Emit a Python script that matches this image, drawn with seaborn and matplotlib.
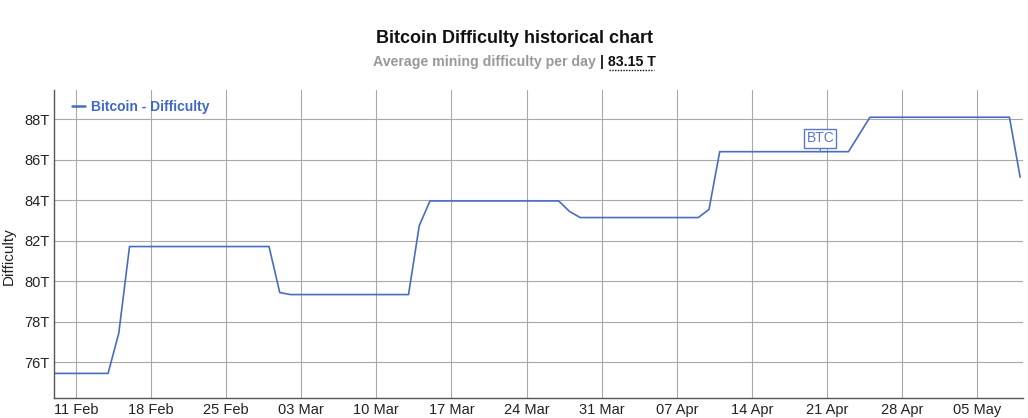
import numpy as np
import pandas as pd
import matplotlib
matplotlib.use("Agg")
import matplotlib.pyplot as plt
import matplotlib.dates as mdates
import matplotlib.ticker as ticker
from matplotlib.lines import Line2D
import seaborn as sns

# daily average difficulty (T), only the days where the curve bends
dates = ["2024-02-09", "2024-02-14", "2024-02-15", "2024-02-16", "2024-02-29",
         "2024-03-01", "2024-03-02", "2024-03-13", "2024-03-14", "2024-03-15",
         "2024-03-27", "2024-03-28", "2024-03-29", "2024-04-09", "2024-04-10",
         "2024-04-11", "2024-04-23", "2024-04-24", "2024-04-25", "2024-05-08",
         "2024-05-09"]
difficulty = [75.46, 75.46, 77.45, 81.72, 81.72,
              79.45, 79.35, 79.35, 82.75, 83.97,
              83.97, 83.45, 83.15, 83.15, 83.55,
              86.40, 86.40, 87.25, 88.10, 88.10,
              85.14]
yticks = [76, 78, 80, 82, 84, 86, 88]
avg_value = "83.15 T"
btc_date = "2024-04-20 09:00"
btc_value = 86.40

df = pd.DataFrame({"date": pd.to_datetime(dates), "difficulty": difficulty})

sns.set_style("white")
plt.rcParams['font.family'] = ['Liberation Sans', 'DejaVu Sans']

line_col = "#4a6cc0"
fig = plt.figure(figsize=(10.28, 4.18), dpi=100)
ax = fig.add_axes([0.0525, 0.048, 0.9425, 0.737])

sns.lineplot(data=df, x="date", y="difficulty", ax=ax, color=line_col, linewidth=1.2)

ax.set_xlim(pd.Timestamp("2024-02-08 23:00"), pd.Timestamp("2024-05-09 06:00"))
ax.set_ylim(74.25, 89.45)
ax.set_yticks(yticks)
ax.yaxis.set_major_formatter(ticker.FuncFormatter(lambda v, p: f"{v:.0f}T"))
ax.xaxis.set_major_locator(mdates.WeekdayLocator(byweekday=mdates.SU))
ax.xaxis.set_major_formatter(mdates.DateFormatter("%d %b"))
ax.tick_params(axis="both", labelsize=10.5, length=0, pad=3, colors="#222222")
ax.tick_params(axis="x", pad=4)

ax.grid(True, color="#a8a8a8", linewidth=0.8)
for s in ["top", "right"]:
    ax.spines[s].set_visible(False)
for s in ["left", "bottom"]:
    ax.spines[s].set_color("#555555")
    ax.spines[s].set_linewidth(1.0)

ax.set_xlabel("")
ax.set_ylabel("Difficulty", fontsize=11, color="#222222", labelpad=6)
ax.yaxis.set_label_coords(-0.039, 0.46)

# legend
ax.legend(handles=[Line2D([0], [0], color=line_col, lw=1.8)], labels=["Bitcoin - Difficulty"],
          loc="upper left", bbox_to_anchor=(0.009, 1.0), frameon=False, handlelength=0.9,
          handletextpad=0.45, borderaxespad=0.3,
          prop={"size": 10, "weight": "bold"}, labelcolor="#3f67c6")

# BTC marker
bx = mdates.date2num(pd.Timestamp(btc_date))
ax.annotate("BTC", xy=(bx, btc_value), xytext=(0, 9.5), textcoords="offset points",
            ha="center", va="center", fontsize=10, color="#5a78c4",
            bbox=dict(boxstyle="square,pad=0.15", fc="white", ec="#5a78c4", lw=1),
            arrowprops=dict(arrowstyle="-", color="#5a78c4", lw=1, shrinkA=0, shrinkB=0))

# titles
fig.text(0.5, 0.908, "Bitcoin Difficulty historical chart", ha="center", va="center",
         fontsize=13, fontweight="bold", color="#111111")
fig.text(0.5835, 0.852, "Average mining difficulty per day ", ha="right", va="center",
         fontsize=10.2, fontweight="bold", color="#999999")
fig.text(0.5835, 0.852, "| " + avg_value, ha="left", va="center",
         fontsize=10.2, fontweight="bold", color="#111111")
fig.add_artist(Line2D([0.592, 0.636], [0.833, 0.833], transform=fig.transFigure,
                      color="#111111", lw=1, linestyle=(0, (1, 1))))

fig.savefig("out.png", dpi=100)
